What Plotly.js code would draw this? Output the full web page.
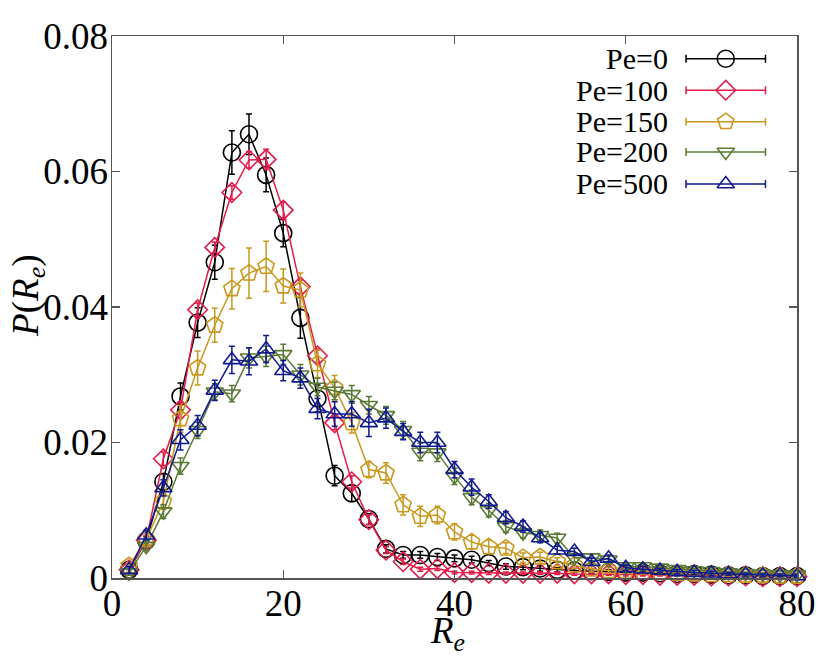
<!DOCTYPE html>
<html>
<head>
<meta charset="utf-8">
<script src="https://cdn.plot.ly/plotly-3.0.1.min.js"></script>
<style>html,body{margin:0;padding:0;background:#fff;}#chart{width:830px;height:664px;}</style>
</head>
<body>
<div id="chart"></div>
<script>
// ---- data ----
const Re = [2,4,6,8,10,12,14,16,18,20,22,24,26,28,30,32,34,36,38,40,42,44,46,48,50,52,54,56,58,60,62,64,66,68,70,72,74,76,78,80];

const pe0 = [0.0012,0.0055,0.0142,0.0268,0.0377,0.0466,0.0628,0.0655,0.0595,0.0509,0.0384,0.0265,0.0151,0.0125,0.0087,0.0043,0.0034,0.0034,0.0031,0.0029,0.0027,0.0022,0.0017,0.0016,0.0014,0.0012,0.0011,0.0010,0.0009,0.0008,0.0008,0.0007,0.0006,0.0006,0.0005,0.0004,0.0004,0.0003,0.0003,0.0003];
const pe0Err = [0.0005,0.0006,0.0012,0.0020,0.0022,0.0025,0.0032,0.0030,0.0025,0.0020,0.0030,0.0020,0.0015,0.0012,0.0008,0.0006,0.0005,0.0005,0.0005,0.0005,0.0005,0.0004,0.0004,0.0004,0.0004,0.0003,0.0003,0.0003,0.0003,0.0003,0.0003,0.0002,0.0002,0.0002,0.0002,0.0002,0.0002,0.0002,0.0002,0.0002];

const pe100 = [0.0012,0.0056,0.0176,0.0248,0.0396,0.0488,0.0569,0.0617,0.0618,0.0543,0.0430,0.0328,0.0229,0.0142,0.0086,0.0041,0.0024,0.0013,0.0014,0.0008,0.0008,0.0007,0.0007,0.0007,0.0007,0.0007,0.0006,0.0006,0.0006,0.0005,0.0005,0.0004,0.0004,0.0004,0.0003,0.0003,0.0003,0.0002,0.0002,0.0002];
const pe100Err = [0.0004,0.0006,0.0010,0.0012,0.0010,0.0008,0.0010,0.0012,0.0015,0.0012,0.0010,0.0010,0.0010,0.0009,0.0007,0.0005,0.0004,0.0003,0.0003,0.0002,0.0002,0.0002,0.0002,0.0002,0.0002,0.0002,0.0002,0.0002,0.0002,0.0002,0.0002,0.0001,0.0001,0.0001,0.0001,0.0001,0.0001,0.0001,0.0001,0.0001];

const pe150 = [0.0018,0.0057,0.0113,0.0235,0.0310,0.0373,0.0427,0.0450,0.0460,0.0431,0.0425,0.0316,0.0281,0.0229,0.0160,0.0155,0.0108,0.0091,0.0093,0.0068,0.0053,0.0046,0.0044,0.0030,0.0031,0.0024,0.0019,0.0013,0.0011,0.0010,0.0009,0.0008,0.0007,0.0006,0.0005,0.0005,0.0004,0.0004,0.0003,0.0003];
const pe150Err = [0.0005,0.0008,0.0012,0.0020,0.0025,0.0025,0.0030,0.0037,0.0037,0.0025,0.0025,0.0020,0.0018,0.0015,0.0012,0.0015,0.0015,0.0015,0.0013,0.0012,0.0010,0.0010,0.0008,0.0007,0.0007,0.0006,0.0005,0.0004,0.0004,0.0003,0.0003,0.0003,0.0003,0.0002,0.0002,0.0002,0.0002,0.0002,0.0002,0.0002];

const pe200 = [0.0008,0.0047,0.0098,0.0165,0.0218,0.0275,0.0272,0.0325,0.0327,0.0330,0.0300,0.0282,0.0276,0.0271,0.0255,0.0240,0.0218,0.0186,0.0185,0.0150,0.0119,0.0100,0.0076,0.0067,0.0063,0.0059,0.0030,0.0030,0.0027,0.0017,0.0017,0.0015,0.0013,0.0011,0.0010,0.0008,0.0007,0.0006,0.0005,0.0005];
const pe200Err = [0.0004,0.0007,0.0010,0.0012,0.0012,0.0012,0.0012,0.0015,0.0015,0.0015,0.0015,0.0013,0.0013,0.0013,0.0013,0.0013,0.0013,0.0013,0.0013,0.0012,0.0011,0.0010,0.0009,0.0008,0.0008,0.0007,0.0006,0.0005,0.0005,0.0004,0.0004,0.0003,0.0003,0.0003,0.0003,0.0002,0.0002,0.0002,0.0002,0.0002];

const pe500 = [0.0012,0.0063,0.0133,0.0204,0.0225,0.0277,0.0322,0.0320,0.0338,0.0306,0.0295,0.0250,0.0242,0.0242,0.0229,0.0236,0.0216,0.0200,0.0200,0.0160,0.0134,0.0113,0.0089,0.0076,0.0059,0.0041,0.0039,0.0024,0.0029,0.0015,0.0013,0.0011,0.0009,0.0008,0.0007,0.0006,0.0005,0.0004,0.0004,0.0003];
const pe500Err = [0.0005,0.0007,0.0012,0.0015,0.0015,0.0015,0.0020,0.0020,0.0020,0.0015,0.0015,0.0015,0.0018,0.0018,0.0020,0.0015,0.0012,0.0015,0.0015,0.0012,0.0012,0.0010,0.0009,0.0008,0.0007,0.0006,0.0005,0.0005,0.0005,0.0004,0.0004,0.0003,0.0003,0.0003,0.0003,0.0002,0.0002,0.0002,0.0002,0.0002];

const seriesNames = ['Pe=0','Pe=100','Pe=150','Pe=200','Pe=500'];
const xTickVals = [0,20,40,60,80];
const xTickText = ['0','20','40','60','80'];
const yTickVals = [0,0.02,0.04,0.06,0.08];
const yTickText = ['0','0.02','0.04','0.06','0.08'];

// ---- styles ----
const colors = ['#000000','#e31c4a','#c9991f','#5a7a36','#111a8e'];
const symbols = ['circle-open','diamond-open','pentagon-open','triangle-down-open','triangle-up-open'];
const sizes = [17,15,17,15,15];
const values = [pe0,pe100,pe150,pe200,pe500];
const errors = [pe0Err,pe100Err,pe150Err,pe200Err,pe500Err];
const serif = 'Liberation Serif';

const traces = values.map((v,i)=>({
  x: Re, y: v, type:'scatter', mode:'lines+markers',
  name: seriesNames[i], showlegend:false, cliponaxis:false,
  line:{color:colors[i], width:1.5},
  marker:{symbol:symbols[i], size:sizes[i], color:colors[i], line:{color:colors[i], width:1.6}},
  error_y:{type:'data', array:errors[i], visible:true, color:colors[i], thickness:1.5, width:3}
}));

// ---- custom legend (gnuplot-like: text left, sample right) ----
const legRows = [0.958,0.900,0.842,0.786,0.727];
const legX = 0.896, legHalf = 0.058;
seriesNames.forEach((n,i)=>{
  traces.push({
    x:[legX], y:[legRows[i]], xaxis:'x2', yaxis:'y2', type:'scatter', mode:'markers',
    showlegend:false, hoverinfo:'skip', cliponaxis:false,
    marker:{symbol:symbols[i], size:sizes[i], color:colors[i], line:{color:colors[i], width:1.6}},
    error_x:{type:'constant', value:legHalf, visible:true, color:colors[i], thickness:1.5, width:4}
  });
});
const annotations = seriesNames.map((n,i)=>({
  xref:'paper', yref:'paper', x:0.815, y:legRows[i], xanchor:'right', yanchor:'middle',
  text:n, showarrow:false, font:{family:serif, size:30, color:'#000'}
}));
// axis titles as annotations (placed like the reference)
annotations.push({
  xref:'paper', yref:'paper', x:0.49, y:-0.103, xanchor:'center', yanchor:'middle',
  text:'<i>R</i><sub><i>e</i></sub>', showarrow:false, font:{family:serif, size:37, color:'#000'}
});
annotations.push({
  xref:'paper', yref:'paper', x:-0.123, y:0.52, xanchor:'center', yanchor:'middle', textangle:-90,
  text:'<i>P</i>(<i>R</i><sub><i>e</i></sub>)', showarrow:false, font:{family:serif, size:37, color:'#000'}
});

const axisCommon = {
  showgrid:false, zeroline:false, showline:true, linecolor:'#555', linewidth:1.5,
  mirror:'ticks', ticks:'inside', ticklen:8, tickwidth:1.2, tickcolor:'#555',
  tickfont:{family:serif, size:37, color:'#000'}
};

const layout = {
  width:830, height:664,
  margin:{l:112, r:33, t:36, b:86},
  paper_bgcolor:'#fff', plot_bgcolor:'rgba(0,0,0,0)',
  showlegend:false,
  xaxis: Object.assign({}, axisCommon, {
    range:[0,80], tickmode:'array', tickvals:xTickVals, ticktext:xTickText, ticklabelstandoff:-8
  }),
  yaxis: Object.assign({}, axisCommon, {
    range:[0,0.08], tickmode:'array', tickvals:yTickVals, ticktext:yTickText, ticklabelstandoff:-5
  }),
  xaxis2:{overlaying:'x', range:[0,1], visible:false, anchor:'y2', fixedrange:true},
  yaxis2:{overlaying:'y', range:[0,1], visible:false, anchor:'x2', fixedrange:true},
  annotations: annotations
};

Plotly.newPlot('chart', traces, layout, {displayModeBar:false, staticPlot:true});
</script>
</body>
</html>
